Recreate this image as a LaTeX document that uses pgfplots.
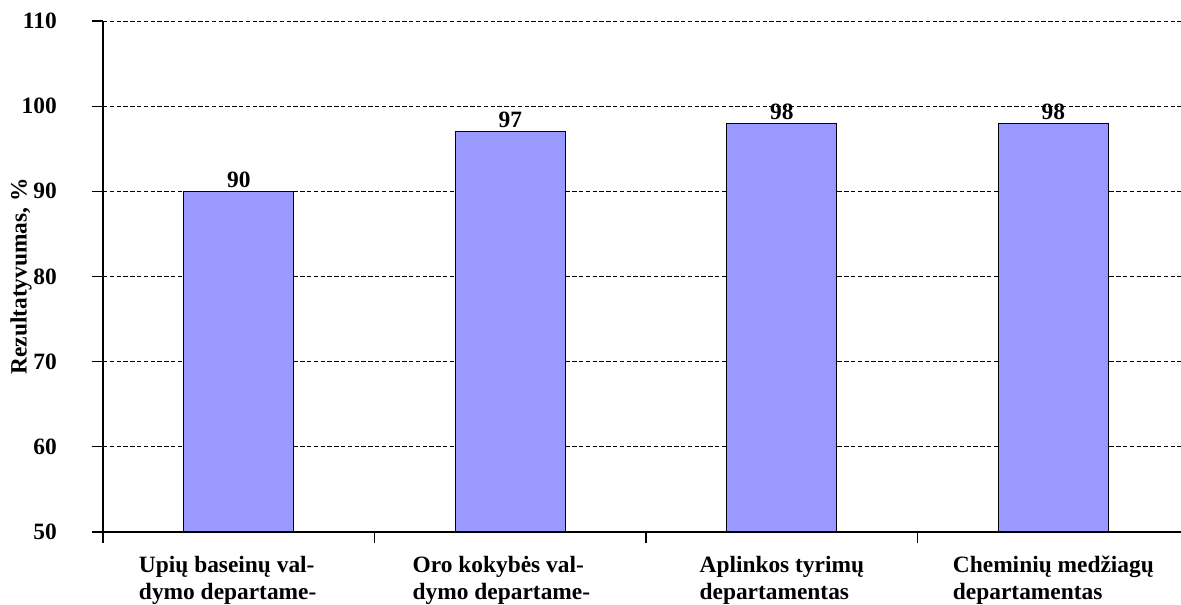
\documentclass[border=0pt]{standalone}
\usepackage{fontspec}
\setmainfont{Liberation Serif}
\usepackage{pgfplots}
\pgfplotsset{compat=1.18}
\definecolor{barblue}{HTML}{9999FF}

\begin{document}
\fontsize{11.7}{12}\selectfont\bfseries
\begin{tikzpicture}
\begin{axis}[
  at={(0,0)}, anchor=south west,
  scale only axis, width=539pt, height=255.5pt,
  ybar, bar width=55pt,
  xmin=-0.5, xmax=3.47, ymin=50, ymax=110,
  ytick={50,60,...,110},
  xtick={0,1,2,3},
  xticklabels={{Upių baseinų val-\hspace*{12pt}\\dymo departame-},
               {Oro kokybės val-\hspace*{12pt}\\dymo departame-},
               {Aplinkos tyrimų\\departamentas},
               {Cheminių medžiagų\\departamentas}},
  minor xtick={-0.5,0.5,1.5,2.5},
  major x tick style={draw=none},
  tick align=outside,
  major tick length=5.5pt, minor tick length=5.5pt,
  tick style={black, line width=0.6pt},
  axis x line*=bottom, axis y line*=left,
  axis line style={black, line width=0.75pt},
  ymajorgrids,
  major grid style={black, line width=0.4pt, dash pattern=on 2.2pt off 1.2pt},
  xticklabel style={align=left, font=\fontsize{11.7}{13.3}\selectfont\bfseries, yshift=-2.5pt},
  yticklabel style={font=\fontsize{11.7}{12}\selectfont\bfseries, xshift=-13.5pt},
  /pgf/number format/assume math mode=true,
  ylabel={Rezultatyvumas, \%},
  every axis y label/.style={at={(axis description cs:-0.076,0.5)}, rotate=90, anchor=center,
    font=\fontsize{11.7}{12}\selectfont\bfseries},
  nodes near coords,
  every node near coord/.append style={font=\fontsize{11.7}{12}\selectfont\bfseries, inner sep=1.5pt},
]
\addplot[fill=barblue, draw=black, line width=0.5pt] coordinates {(0,90) (1,97) (2,98) (3,98)};
\end{axis}
\pgfresetboundingbox
\path[use as bounding box] (-51.5pt,-36pt) rectangle (539pt,266pt);
\end{tikzpicture}
\end{document}
